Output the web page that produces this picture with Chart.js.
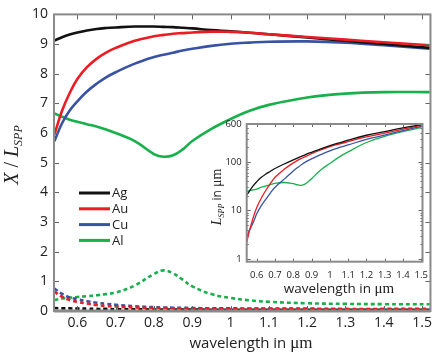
<!DOCTYPE html>
<html>
<head>
<meta charset="utf-8">
<script src="https://cdn.jsdelivr.net/npm/chart.js@4.4.0/dist/chart.umd.min.js"></script>
<style>
  html, body { margin: 0; padding: 0; background: #fff; }
  #wrap { position: relative; width: 436px; height: 354px; }
  canvas { position: absolute; left: 0; top: 0; }
</style>
</head>
<body>
<div id="wrap">
  <canvas id="mainChart" width="436" height="354"></canvas>
  <canvas id="insetChart" width="436" height="354"></canvas>
</div>
<script>
// main panel: X / L_SPP (solid) and loss ratio (dashed)
const wl = [0.54, 0.56, 0.58, 0.60, 0.625, 0.65, 0.675, 0.70, 0.75, 0.80, 0.825, 0.85, 0.875, 0.90, 0.95, 1.0, 1.05, 1.1, 1.2, 1.3, 1.4, 1.52];
const agRatio = [9.12, 9.23, 9.32, 9.39, 9.46, 9.51, 9.54, 9.56, 9.59, 9.59, 9.58, 9.57, 9.55, 9.53, 9.47, 9.43, 9.38, 9.33, 9.22, 9.11, 9.00, 8.87];
const auRatio = [5.95, 6.75, 7.35, 7.82, 8.22, 8.50, 8.71, 8.87, 9.11, 9.26, 9.31, 9.35, 9.37, 9.39, 9.42, 9.41, 9.38, 9.33, 9.24, 9.15, 9.06, 8.96];
const cuRatio = [5.72, 6.33, 6.76, 7.07, 7.40, 7.66, 7.88, 8.05, 8.34, 8.56, 8.64, 8.71, 8.78, 8.84, 8.94, 9.01, 9.05, 9.08, 9.09, 9.05, 8.96, 8.84];
const alRatio = [6.66, 6.55, 6.45, 6.38, 6.30, 6.22, 6.12, 6.00, 5.73, 5.29, 5.20, 5.25, 5.45, 5.73, 6.14, 6.47, 6.75, 6.95, 7.20, 7.33, 7.38, 7.38];

const agLoss = [0.10, 0.09, 0.09, 0.08, 0.08, 0.07, 0.07, 0.06, 0.06, 0.05, 0.05, 0.05, 0.05, 0.05, 0.04, 0.04, 0.04, 0.04, 0.04, 0.04, 0.04, 0.04];
const auLoss = [0.65, 0.48, 0.37, 0.31, 0.25, 0.20, 0.17, 0.15, 0.12, 0.10, 0.10, 0.09, 0.09, 0.08, 0.08, 0.07, 0.07, 0.07, 0.06, 0.06, 0.06, 0.06];
const cuLoss = [0.76, 0.58, 0.46, 0.40, 0.33, 0.28, 0.24, 0.21, 0.16, 0.13, 0.12, 0.11, 0.11, 0.10, 0.09, 0.09, 0.08, 0.08, 0.08, 0.07, 0.07, 0.07];
const alLoss = [0.37, 0.42, 0.45, 0.47, 0.50, 0.53, 0.57, 0.62, 0.86, 1.25, 1.37, 1.27, 1.06, 0.83, 0.57, 0.44, 0.36, 0.31, 0.26, 0.24, 0.23, 0.23];

// inset: L_SPP in um (log scale)
const wlInset = [0.545, 0.56, 0.58, 0.60, 0.625, 0.65, 0.675, 0.70, 0.75, 0.80, 0.825, 0.85, 0.875, 0.90, 0.95, 1.0, 1.05, 1.1, 1.2, 1.3, 1.4, 1.5];
const agLspp = [20.5, 25, 32, 39, 48, 56, 64, 73, 90, 110, 121, 132, 145, 157, 185, 215, 245, 280, 352, 420, 500, 583];
const auLspp = [2.2, 3.8, 7.0, 11.5, 18, 26, 36, 48, 70, 95, 108, 120, 133, 147, 175, 205, 232, 260, 325, 390, 470, 560];
const cuLspp = [2.8, 3.9, 5.6, 8.5, 12.5, 17, 23, 30, 44, 65, 77, 90, 103, 115, 140, 168, 195, 222, 290, 355, 440, 535];
const alLspp = [24.5, 25.5, 26.5, 27.5, 30, 32, 34, 36, 37.5, 35.5, 33.5, 33, 37, 45, 68, 92, 125, 160, 250, 335, 420, 505];

const metals = ["Ag", "Au", "Cu", "Al"];
const xTicks = [0.6, 0.7, 0.8, 0.9, 1.0, 1.1, 1.2, 1.3, 1.4, 1.5];
const yTicks = [0, 1, 2, 3, 4, 5, 6, 7, 8, 9, 10];
const insetYTicks = [1, 10, 100, 600];

const colors = { Ag: "#111111", Au: "#ec1c24", Cu: "#3953a4", Al: "#17b04b" };
const SANS = '"Open Sans"';
const SERIF = '"Liberation Serif"';

const pts = (xs, ys) => xs.map((x, i) => ({ x, y: ys[i] }));

function drawRich(ctx, parts, x, y, rot) {
  ctx.save();
  ctx.translate(x, y);
  ctx.rotate(rot || 0);
  let total = 0;
  parts.forEach(p => { ctx.font = p.font; p.w = ctx.measureText(p.text).width; total += p.w; });
  let cx = -total / 2;
  ctx.textAlign = "left";
  ctx.textBaseline = "alphabetic";
  ctx.fillStyle = "#222";
  parts.forEach(p => { ctx.font = p.font; ctx.fillText(p.text, cx, p.dy || 0); cx += p.w; });
  ctx.restore();
}

function line(ctx, x1, y1, x2, y2) {
  ctx.beginPath(); ctx.moveTo(x1, y1); ctx.lineTo(x2, y2); ctx.stroke();
}

const mainDecor = {
  id: "mainDecor",
  afterDraw(chart) {
    const { ctx, chartArea: a, scales } = chart;
    ctx.save();
    // ticks, inward on all sides
    ctx.strokeStyle = "#666";
    ctx.lineWidth = 1;
    xTicks.forEach(v => {
      const px = Math.round(scales.x.getPixelForValue(v)) + 0.5;
      line(ctx, px, a.bottom, px, a.bottom - 5);
      line(ctx, px, a.top, px, a.top + 5);
    });
    yTicks.forEach(v => {
      const py = Math.round(scales.y.getPixelForValue(v)) + 0.5;
      line(ctx, a.left, py, a.left + 5, py);
      line(ctx, a.right, py, a.right - 5, py);
    });
    // frame
    ctx.strokeStyle = "#8a8a8a";
    ctx.lineWidth = 2;
    ctx.strokeRect(a.left, a.top, a.right - a.left, a.bottom - a.top);
    ctx.lineWidth = 3;
    line(ctx, a.left, a.bottom, a.right, a.bottom);

    // legend
    ctx.lineWidth = 3;
    ctx.font = "13px " + SANS;
    ctx.textBaseline = "middle";
    ctx.textAlign = "left";
    metals.forEach((m, i) => {
      const y = 193 + i * 15.8;
      ctx.strokeStyle = colors[m];
      line(ctx, 79, y, 110, y);
      ctx.fillStyle = "#222";
      ctx.fillText(m, 112, y + 0.5);
    });
    ctx.restore();

    drawRich(ctx, [
      { text: "X", font: "italic 20px " + SERIF },
      { text: " / ", font: "20px " + SERIF },
      { text: "L", font: "italic 20px " + SERIF },
      { text: "SPP", font: "italic 12px " + SERIF, dy: 4 }
    ], 18, 155, -Math.PI / 2);

    drawRich(ctx, [
      { text: "wavelength in ", font: "15px " + SANS },
      { text: "\u03bcm", font: "17px " + SERIF }
    ], 251, 348);
  }
};

const insetDecor = {
  id: "insetDecor",
  beforeDraw(chart) {
    const { ctx, chartArea: a } = chart;
    ctx.save();
    ctx.fillStyle = "#fff";
    ctx.fillRect(a.left, a.top, a.right - a.left, a.bottom - a.top);
    ctx.restore();
  },
  afterDraw(chart) {
    const { ctx, chartArea: a, scales } = chart;
    ctx.save();
    ctx.strokeStyle = "#666";
    ctx.lineWidth = 1;
    xTicks.forEach(v => {
      const px = Math.round(scales.x.getPixelForValue(v)) + 0.5;
      line(ctx, px, a.bottom, px, a.bottom - 3);
      line(ctx, px, a.top, px, a.top + 3);
    });
    for (let dec = 1; dec <= 100; dec *= 10) {
      for (let k = 1; k <= 9; k++) {
        const v = dec * k;
        if (v > 600) break;
        const py = Math.round(scales.y.getPixelForValue(v)) + 0.5;
        const len = k === 1 ? 4 : 2;
        line(ctx, a.left, py, a.left + len, py);
        line(ctx, a.right, py, a.right - len, py);
      }
    }
    ctx.strokeStyle = "#8a8a8a";
    ctx.lineWidth = 2;
    ctx.strokeRect(a.left, a.top, a.right - a.left, a.bottom - a.top);
    ctx.restore();

    drawRich(ctx, [
      { text: "L", font: "italic 14px " + SERIF },
      { text: "SPP", font: "italic 8px " + SERIF, dy: 3 },
      { text: " in ", font: "12px " + SANS },
      { text: "\u03bcm", font: "14px " + SERIF }
    ], 221, 197, -Math.PI / 2);

    drawRich(ctx, [
      { text: "wavelength in ", font: "13.5px " + SANS },
      { text: "\u03bcm", font: "15px " + SERIF }
    ], 339, 293);
  }
};

const ratioSets = [
  { m: "Au", d: auRatio }, { m: "Ag", d: agRatio }, { m: "Cu", d: cuRatio }, { m: "Al", d: alRatio }
];
const lossSets = [
  { m: "Au", d: auLoss }, { m: "Ag", d: agLoss }, { m: "Cu", d: cuLoss }, { m: "Al", d: alLoss }
];

const mainDatasets = ratioSets.map(s => ({
  label: s.m, data: pts(wl, s.d), borderColor: colors[s.m], borderWidth: 2.6,
  tension: 0.4, pointRadius: 0, fill: false
})).concat(lossSets.map(s => ({
  label: s.m + " loss", data: pts(wl, s.d), borderColor: colors[s.m], borderWidth: 2.6,
  borderDash: [4, 3], tension: 0.4, pointRadius: 0, fill: false
})));

new Chart(document.getElementById("mainChart"), {
  type: "line",
  data: { datasets: mainDatasets },
  options: {
    responsive: false,
    animation: false,
    devicePixelRatio: 1,
    layout: { padding: { top: 9, right: 5, left: 0, bottom: 0 } },
    plugins: { legend: { display: false }, tooltip: { enabled: false } },
    scales: {
      x: {
        type: "linear", min: 0.539, max: 1.522,
        grid: { display: false, drawTicks: false }, border: { display: false },
        afterBuildTicks: s => { s.ticks = xTicks.map(v => ({ value: v })); },
        afterFit: s => { s.height = 43; },
        ticks: { font: { family: "Open Sans", size: 14 }, color: "#222", padding: 4, maxRotation: 0, autoSkip: false,
                 callback: v => String(+v.toFixed(1)) }
      },
      y: {
        type: "linear", min: 0, max: 10,
        grid: { display: false, drawTicks: false }, border: { display: false },
        afterBuildTicks: s => { s.ticks = yTicks.map(v => ({ value: v })); },
        afterFit: s => { s.width = 54; },
        ticks: { font: { family: "Open Sans", size: 14 }, color: "#222", padding: 6, autoSkip: false }
      }
    }
  },
  plugins: [mainDecor]
});

const insetSets = [
  { m: "Ag", d: agLspp }, { m: "Au", d: auLspp }, { m: "Cu", d: cuLspp }, { m: "Al", d: alLspp }
];

new Chart(document.getElementById("insetChart"), {
  type: "line",
  data: {
    datasets: insetSets.map(s => ({
      label: s.m, data: pts(wlInset, s.d), borderColor: colors[s.m], borderWidth: 1.3,
      tension: 0.4, pointRadius: 0, fill: false
    }))
  },
  options: {
    responsive: false,
    animation: false,
    devicePixelRatio: 1,
    layout: { padding: { top: 124, right: 12.7, left: 216.7, bottom: 72.3 } },
    plugins: { legend: { display: false }, tooltip: { enabled: false } },
    scales: {
      x: {
        type: "linear", min: 0.545, max: 1.507,
        grid: { display: false, drawTicks: false }, border: { display: false },
        afterBuildTicks: s => { s.ticks = xTicks.map(v => ({ value: v })); },
        afterFit: s => { s.height = 20; },
        ticks: { font: { family: "Open Sans", size: 9.5 }, color: "#222", padding: 8, maxRotation: 0, autoSkip: false,
                 callback: v => String(+v.toFixed(1)) }
      },
      y: {
        type: "logarithmic", min: 0.88, max: 600,
        grid: { display: false, drawTicks: false }, border: { display: false },
        afterBuildTicks: s => { s.ticks = insetYTicks.map(v => ({ value: v })); },
        afterFit: s => { s.width = 30; },
        ticks: { font: { family: "Open Sans", size: 9.5 }, color: "#222", padding: 5, autoSkip: false,
                 callback: v => String(v) }
      }
    }
  },
  plugins: [insetDecor]
});
</script>
</body>
</html>
